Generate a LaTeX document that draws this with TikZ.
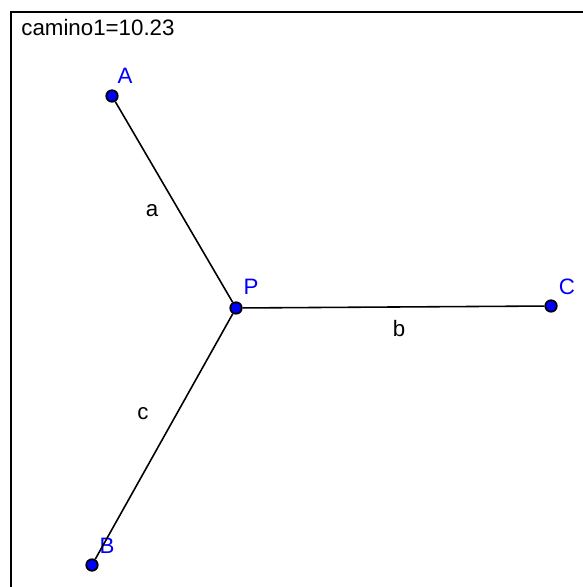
\documentclass[tikz,border=0pt]{standalone}
\usepackage{fontspec}
\setmainfont{Liberation Sans}
\usepackage{xcolor}
\usetikzlibrary{positioning}
\definecolor{PointBlue}{RGB}{0,0,255}
\tikzset{
  pt/.style={circle, draw=black, fill=PointBlue, line width=1pt, minimum size=0.23cm, inner sep=0pt},
  ptlab/.style={text=PointBlue, font=\fontsize{12.7}{14}\selectfont, inner sep=0pt},
  seglab/.style={text=black, font=\fontsize{12.7}{14}\selectfont, inner sep=0pt},
  seg/.style={black, line width=0.9pt},
}
\begin{document}
\begin{tikzpicture}[x=0.02cm, y=-0.02cm]
  \useasboundingbox (0,0) rectangle (582,587);
  \draw[line width=1.4pt] (11,600) -- (11,12) -- (600,12);
  \node[seglab, anchor=west] (val) at (21,28) {camino1=10.23};
  % points
  \node[pt] (A) at (112,96) {};
  \node[pt] (P) at (236,308) {};
  \node[pt] (C) at (551,306) {};
  \node[pt] (B) at (92,565) {};
  \node[ptlab] (labA) at (125,76) {A};
  \node[ptlab] (labP) at (251,287) {P};
  \node[ptlab] (labC) at (567,287) {C};
  \node[ptlab] (labB) at (107,546) {B};
  % segments
  \draw[seg] (A) -- (P);
  \draw[seg] (P) -- (C);
  \draw[seg] (P) -- (B);
  \node[seglab] (a) at (152,211) {a};
  \node[seglab] (b) at (399,329) {b};
  \node[seglab] (c) at (143,414) {c};
\end{tikzpicture}
\end{document}
